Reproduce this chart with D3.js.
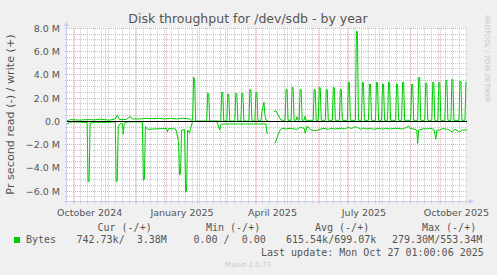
<!DOCTYPE html>
<html>
<head>
<meta charset="utf-8">
<script src="https://cdn.jsdelivr.net/npm/d3@7"></script>
<style>
body { margin: 0; background: #f0f0f0; }
svg { display: block; }
text { font-family: "DejaVu Sans", sans-serif; fill: #555; }
text.mono { font-family: "DejaVu Sans Mono", monospace; }
</style>
</head>
<body>
<svg id="chart" width="497" height="275"></svg>
<script>
// daily averages, millions of bytes per second (write = +, read = -)
var writeData = [
	["2024-09-24", 0.05], ["2024-09-28", 0.15], ["2024-10-06", 0.1], ["2024-10-15", 0.15],
	["2024-10-21", 0.12], ["2024-10-27", 0.18], ["2024-11-05", 0.1], ["2024-11-11", 0.2],
	["2024-11-13", 0.53], ["2024-11-15", 0.15], ["2024-11-22", 0.15], ["2024-11-26", 0.43],
	["2024-11-28", 0.2], ["2024-12-06", 0.2], ["2024-12-12", 0.25], ["2024-12-18", 0.22],
	["2024-12-24", 0.26], ["2024-12-30", 0.2], ["2025-01-05", 0.25], ["2025-01-11", 0.2],
	["2025-01-17", 0.27], ["2025-01-23", 0.22], ["2025-01-26", 0.08], ["2025-01-27", 0.1],
	["2025-01-28", 3.8], ["2025-01-29", 3.7], ["2025-01-30", 0.0],
	["2025-02-10", 0.02], ["2025-02-11", 2.41], ["2025-02-12", 2.38], ["2025-02-13", 0.02],
	["2025-02-24", 0.02], ["2025-02-25", 2.5], ["2025-02-26", 2.47], ["2025-02-27", 0.02],
	["2025-03-02", 0.02], ["2025-03-03", 2.35], ["2025-03-04", 2.33], ["2025-03-05", 0.02],
	["2025-03-10", 0.02], ["2025-03-11", 2.41], ["2025-03-12", 2.38], ["2025-03-13", 0.02],
	["2025-03-16", 0.02], ["2025-03-17", 2.44], ["2025-03-18", 2.4], ["2025-03-19", 0.02],
	["2025-03-24", 0.02], ["2025-03-25", 2.75], ["2025-03-26", 2.7], ["2025-03-27", 0.02],
	["2025-03-30", 0.02], ["2025-03-31", 2.52], ["2025-04-01", 2.48], ["2025-04-02", 0.02],
	["2025-04-05", 0.05], ["2025-04-06", 0.85], ["2025-04-08", 1.65], ["2025-04-09", 0.5],
	["2025-04-10", 0.1], ["2025-04-12", 0.05], ["2025-04-15", null],
	["2025-04-18", 0.85], ["2025-04-20", 0.9], ["2025-04-22", 0.55], ["2025-04-25", 0.1],
	["2025-04-29", 0.08], ["2025-04-30", 2.75], ["2025-05-01", 2.72], ["2025-05-02", 0.08],
	["2025-05-05", 0.08], ["2025-05-06", 2.93], ["2025-05-07", 2.9], ["2025-05-08", 0.08],
	["2025-05-10", 0.1], ["2025-05-11", 0.4], ["2025-05-12", 0.08],
	["2025-05-13", 0.08], ["2025-05-14", 2.75], ["2025-05-15", 2.72], ["2025-05-16", 0.08],
	["2025-05-18", 0.1], ["2025-05-19", 0.46], ["2025-05-20", 0.08],
	["2025-05-27", 0.08], ["2025-05-28", 2.75], ["2025-05-29", 2.72], ["2025-05-30", 0.08],
	["2025-06-01", 0.08], ["2025-06-02", 2.93], ["2025-06-03", 2.9], ["2025-06-04", 0.08],
	["2025-06-08", 0.08], ["2025-06-09", 2.75], ["2025-06-10", 2.72], ["2025-06-11", 0.08],
	["2025-06-15", 0.08], ["2025-06-16", 2.93], ["2025-06-17", 2.9], ["2025-06-18", 0.08],
	["2025-06-22", 0.08], ["2025-06-23", 2.75], ["2025-06-24", 2.72], ["2025-06-25", 0.08],
	["2025-06-30", 0.08], ["2025-07-01", 3.36], ["2025-07-02", 3.33], ["2025-07-03", 0.08],
	["2025-07-08", 0.08], ["2025-07-09", 7.77], ["2025-07-10", 7.7], ["2025-07-11", 0.08],
	["2025-07-14", 0.08], ["2025-07-15", 3.36], ["2025-07-16", 3.33], ["2025-07-17", 0.08],
	["2025-07-21", 0.08], ["2025-07-22", 3.21], ["2025-07-23", 3.18], ["2025-07-24", 0.08],
	["2025-07-28", 0.08], ["2025-07-29", 3.36], ["2025-07-30", 3.33], ["2025-07-31", 0.08],
	["2025-08-03", 0.08], ["2025-08-04", 3.21], ["2025-08-05", 3.18], ["2025-08-06", 0.08],
	["2025-08-09", 0.08], ["2025-08-10", 3.36], ["2025-08-11", 3.33], ["2025-08-12", 0.08],
	["2025-08-17", 0.08], ["2025-08-18", 3.21], ["2025-08-19", 3.18], ["2025-08-20", 0.08],
	["2025-08-23", 0.08], ["2025-08-24", 3.36], ["2025-08-25", 3.33], ["2025-08-26", 0.08],
	["2025-09-01", 0.08], ["2025-09-02", 3.21], ["2025-09-03", 3.18], ["2025-09-04", 0.08],
	["2025-09-08", 0.08], ["2025-09-09", 3.79], ["2025-09-10", 3.75], ["2025-09-11", 0.08],
	["2025-09-15", 0.08], ["2025-09-16", 3.3], ["2025-09-17", 3.27], ["2025-09-18", 0.08],
	["2025-09-22", 0.08], ["2025-09-23", 3.36], ["2025-09-24", 3.33], ["2025-09-25", 0.08],
	["2025-09-28", 0.08], ["2025-09-29", 3.36], ["2025-09-30", 3.33], ["2025-10-01", 0.08],
	["2025-10-05", 0.08], ["2025-10-06", 3.55], ["2025-10-07", 3.52], ["2025-10-08", 0.08],
	["2025-10-11", 0.08], ["2025-10-12", 3.61], ["2025-10-13", 3.58], ["2025-10-14", 0.08],
	["2025-10-19", 0.08], ["2025-10-20", 3.44], ["2025-10-21", 3.41], ["2025-10-22", 0.08],
	["2025-10-25", 0.08], ["2025-10-26", 3.36], ["2025-10-27", 3.3]
];

var readData = [
	["2024-09-24", -0.23], ["2024-09-28", -0.05], ["2024-10-08", -0.08], ["2024-10-14", -0.1],
	["2024-10-15", -5.2], ["2024-10-16", -5.15], ["2024-10-17", -0.15], ["2024-10-22", -0.08],
	["2024-11-02", -0.1], ["2024-11-11", -0.05], ["2024-11-12", -5.2], ["2024-11-13", -5.15],
	["2024-11-14", -0.46], ["2024-11-16", -0.2], ["2024-11-18", -0.2], ["2024-11-19", -1.12],
	["2024-11-20", -0.15], ["2024-11-23", -0.05], ["2024-12-08", -0.05], ["2024-12-09", -5.08],
	["2024-12-10", -5.0], ["2024-12-11", -0.46], ["2024-12-13", -0.69], ["2024-12-20", -0.66],
	["2024-12-28", -0.62], ["2025-01-01", -0.62], ["2025-01-02", -0.9], ["2025-01-03", -0.63],
	["2025-01-10", -0.66], ["2025-01-11", -0.9], ["2025-01-13", -1.75], ["2025-01-14", -4.62],
	["2025-01-15", -4.5], ["2025-01-16", -0.75], ["2025-01-19", -0.72], ["2025-01-20", -6.1],
	["2025-01-21", -6.0], ["2025-01-22", -0.75], ["2025-01-24", -1.03], ["2025-01-25", -0.6],
	["2025-01-27", 0], ["2025-02-20", 0], ["2025-02-23", -0.75], ["2025-02-24", -0.3],
	["2025-02-25", -0.23], ["2025-04-10", -0.23], ["2025-04-11", -1.03], ["2025-04-12", -1.05],
	["2025-04-15", null],
	["2025-04-19", -1.9], ["2025-04-22", -1.17], ["2025-04-24", -0.75], ["2025-04-26", -0.6],
	["2025-04-30", -0.66], ["2025-05-04", -0.6], ["2025-05-08", -0.66], ["2025-05-11", -0.69],
	["2025-05-14", -0.52], ["2025-05-18", -0.6], ["2025-05-19", -1.03], ["2025-05-21", -0.4],
	["2025-05-24", -0.69], ["2025-05-27", -0.8], ["2025-06-01", -0.75], ["2025-06-06", -0.6],
	["2025-06-11", -0.69], ["2025-06-14", -0.6], ["2025-06-18", -0.66], ["2025-06-24", -0.6],
	["2025-06-27", -0.66], ["2025-07-01", -0.52], ["2025-07-04", -0.63], ["2025-07-08", -0.46],
	["2025-07-10", -0.52], ["2025-07-13", -0.69], ["2025-07-16", -0.58], ["2025-07-19", -0.66],
	["2025-07-23", -0.6], ["2025-07-26", -0.69], ["2025-08-01", -0.6], ["2025-08-04", -0.68],
	["2025-08-07", -0.6], ["2025-08-12", -0.66], ["2025-08-17", -0.6], ["2025-08-24", -0.66],
	["2025-08-28", -0.52], ["2025-08-30", -0.4], ["2025-08-31", -0.6], ["2025-09-04", -0.66],
	["2025-09-07", -0.75], ["2025-09-08", -1.9], ["2025-09-09", -0.75], ["2025-09-14", -0.63],
	["2025-09-17", -0.66], ["2025-09-20", -0.6], ["2025-09-24", -0.69], ["2025-09-25", -1.03],
	["2025-09-26", -1.55], ["2025-09-27", -0.75], ["2025-09-30", -0.75], ["2025-10-03", -0.63],
	["2025-10-08", -0.69], ["2025-10-12", -0.9], ["2025-10-15", -0.69], ["2025-10-20", -0.92],
	["2025-10-22", -0.75], ["2025-10-27", -0.75]
];

var yTicks = [-6, -4, -2, 0, 2, 4, 6, 8];
var legendHeads = ["Cur (-/+)", "Min (-/+)", "Avg (-/+)", "Max (-/+)"];
var legendName = "Bytes";
var legendValues = ["742.73k/  3.38M", "0.00 /  0.00", "615.54k/699.07k", "279.30M/553.34M"];
var lastUpdate = "Last update: Mon Oct 27 01:00:06 2025";

window.onload = init;

function init() {

	window.options = {};
	options.plot = { left: 67, right: 467, top: 28.3, bottom: 201.5 };
	options.start = new Date(Date.UTC(2024, 8, 24));
	options.end = new Date(Date.UTC(2025, 9, 27, 1));
	options.green = "#00cc00";
	options.axisColor = "#c9cff5";
	options.gridColor = "#c4c4c4";
	options.mgridColor = "#eeaaaa";

	var p = options.plot;
	var svg = d3.select("#chart");
	svg.append("rect").attr("width", 497).attr("height", 275).attr("fill", "#f0f0f0");
	svg.append("rect")
		.attr("x", p.left).attr("y", Math.round(p.top))
		.attr("width", p.right - p.left).attr("height", p.bottom - Math.round(p.top))
		.attr("fill", "#ffffff");

	var parse = d3.utcParse("%Y-%m-%d");
	var x = d3.scaleUtc().domain([options.start, options.end]).range([p.left, p.right]);
	var y = d3.scaleLinear().domain([-6.9, 8]).range([p.bottom, p.top]);
	var crisp = function(v) { return Math.floor(v) + 0.5; };

	var grid = svg.append("g").attr("class", "grid");

	// minor grid: 0.5 M / weekly
	var minorY = d3.range(-6.5, 8, 0.5).filter(function(v) { return v % 2 !== 0; });
	grid.selectAll("line.hminor").data(minorY).enter().append("line")
		.attr("class", "hminor")
		.attr("x1", p.left - 2).attr("x2", p.right)
		.attr("y1", function(d) { return crisp(y(d)); })
		.attr("y2", function(d) { return crisp(y(d)); })
		.attr("stroke", options.gridColor).attr("stroke-dasharray", "1,1");
	var weeks = d3.utcMonday.range(options.start, options.end);
	grid.selectAll("line.vminor").data(weeks).enter().append("line")
		.attr("class", "vminor")
		.attr("x1", function(d) { return crisp(x(d)); })
		.attr("x2", function(d) { return crisp(x(d)); })
		.attr("y1", p.top).attr("y2", p.bottom + 3)
		.attr("stroke", options.gridColor).attr("stroke-dasharray", "1,1");

	// major grid: 2 M / monthly
	grid.selectAll("line.hmajor").data(yTicks).enter().append("line")
		.attr("class", "hmajor")
		.attr("x1", p.left - 2).attr("x2", p.right)
		.attr("y1", function(d) { return crisp(y(d)); })
		.attr("y2", function(d) { return crisp(y(d)); })
		.attr("stroke", options.mgridColor).attr("stroke-dasharray", "1,1");
	var months = d3.utcMonth.range(options.start, options.end);
	grid.selectAll("line.vmajor").data(months).enter().append("line")
		.attr("class", "vmajor")
		.attr("x1", function(d) { return crisp(x(d)); })
		.attr("x2", function(d) { return crisp(x(d)); })
		.attr("y1", p.top).attr("y2", p.bottom + 3)
		.attr("stroke", options.mgridColor).attr("stroke-dasharray", "1,1");

	// axes labels
	var yAxis = d3.axisLeft(y).tickValues(yTicks).tickSize(0).tickPadding(7)
		.tickFormat(function(d) { return d === 0 ? "0.0" : d3.format(".1f")(d) + " M"; });
	var gy = svg.append("g").attr("transform", "translate(" + p.left + ",0)").call(yAxis);
	gy.select(".domain").remove();
	gy.selectAll("text").attr("font-family", "DejaVu Sans").attr("font-size", 9.5).attr("fill", "#555");

	var labelDates = d3.utcMonth.every(3).range(d3.utcMonth.ceil(options.start), options.end)
		.map(function(d) { return d3.utcDay.offset(d, 15); });
	var xAxis = d3.axisBottom(x).tickValues(labelDates).tickSize(0).tickPadding(8)
		.tickFormat(d3.utcFormat("%B %Y"));
	var gx = svg.append("g").attr("transform", "translate(0," + p.bottom + ")").call(xAxis);
	gx.select(".domain").remove();
	gx.selectAll("text").attr("font-family", "DejaVu Sans").attr("font-size", 9.5).attr("fill", "#555");

	// data lines
	var line = d3.line()
		.defined(function(d) { return d[1] !== null; })
		.x(function(d) { return x(parse(d[0])); })
		.y(function(d) { return y(d[1]); });
	svg.append("path").datum(readData)
		.attr("d", line).attr("fill", "none")
		.attr("stroke", options.green).attr("stroke-width", 1);
	svg.append("path").datum(writeData)
		.attr("d", line).attr("fill", "none")
		.attr("stroke", options.green).attr("stroke-width", 1);

	// zero rule
	svg.append("line")
		.attr("x1", p.left).attr("x2", p.right)
		.attr("y1", crisp(y(0))).attr("y2", crisp(y(0)))
		.attr("stroke", "#000");

	// axis lines and arrows
	svg.append("line")
		.attr("x1", p.left - 0.5).attr("x2", p.left - 0.5)
		.attr("y1", p.bottom + 3).attr("y2", 25)
		.attr("stroke", options.axisColor);
	svg.append("line")
		.attr("x1", p.left - 3).attr("x2", 470)
		.attr("y1", p.bottom).attr("y2", p.bottom)
		.attr("stroke", options.axisColor);
	svg.append("path")
		.attr("d", "M" + (p.left - 3) + ",26L" + (p.left - 0.5) + ",21.5L" + (p.left + 2) + ",26Z")
		.attr("fill", options.axisColor);
	svg.append("path")
		.attr("d", "M469," + (p.bottom - 2.5) + "L475," + p.bottom + "L469," + (p.bottom + 2.5) + "Z")
		.attr("fill", options.axisColor);

	// titles
	svg.append("text").attr("x", 248).attr("y", 22.5)
		.attr("text-anchor", "middle").attr("font-size", 12.5)
		.text("Disk throughput for /dev/sdb - by year");
	svg.append("text")
		.attr("transform", "translate(13.5,114.5) rotate(-90)")
		.attr("text-anchor", "middle").attr("font-size", 11.2)
		.text("Pr second read (-) / write (+)");
	svg.append("text")
		.attr("transform", "translate(485,15) rotate(90)")
		.attr("font-size", 6.8).style("fill", "#c4c4c4")
		.text("RRDTOOL / TOBI OETIKER");

	// legend
	var headX = [97.5, 206, 315, 422];
	svg.selectAll("text.head").data(legendHeads).enter().append("text")
		.attr("class", "mono head")
		.attr("x", function(d, i) { return headX[i]; }).attr("y", 230.7)
		.attr("font-size", 10)
		.style("white-space", "pre")
		.text(function(d) { return d; });
	svg.append("rect").attr("x", 14).attr("y", 237).attr("width", 6).attr("height", 6)
		.attr("fill", options.green);
	svg.append("text").attr("class", "mono").attr("x", 26).attr("y", 243)
		.attr("font-size", 10).text(legendName);
	var valX = [76.5, 193.5, 286, 392];
	svg.selectAll("text.val").data(legendValues).enter().append("text")
		.attr("class", "mono val")
		.attr("x", function(d, i) { return valX[i]; }).attr("y", 243)
		.attr("font-size", 10)
		.style("white-space", "pre")
		.text(function(d) { return d; });
	svg.append("text").attr("class", "mono").attr("x", 261).attr("y", 255.7)
		.attr("font-size", 10).text(lastUpdate);
	svg.append("text").attr("x", 248).attr("y", 266.5)
		.attr("text-anchor", "middle").attr("font-size", 7).style("fill", "#c8c8c8")
		.text("Munin 2.0.73");
}
</script>
</body>
</html>
